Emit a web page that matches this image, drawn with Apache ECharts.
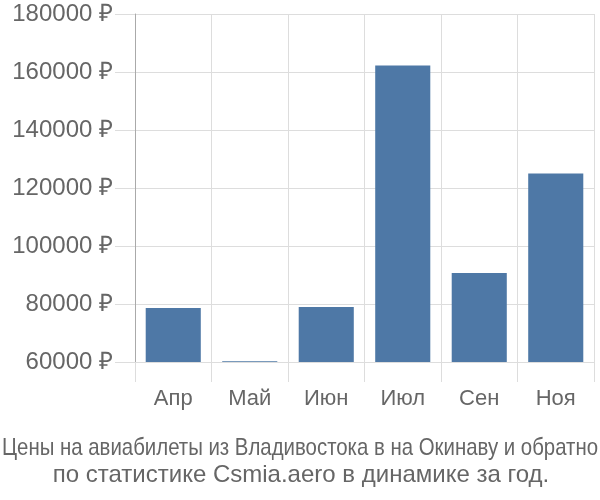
<!DOCTYPE html>
<html>
<head>
<meta charset="utf-8">
<script src="https://cdn.jsdelivr.net/npm/echarts@6/dist/echarts.min.js"></script>
<style>html,body{margin:0;padding:0;background:#fff}#c{width:600px;height:500px}</style>
</head>
<body>
<div id="c"></div>
<script>
const categories = ['Апр', 'Май', 'Июн', 'Июл', 'Сен', 'Ноя'];
const prices = [78600, 60300, 79000, 162200, 90700, 125000];
const yTicks = { min: 60000, max: 180000, interval: 20000 };
const titleLine1 = 'Цены на авиабилеты из Владивостока в на Окинаву и обратно';
const titleLine2 = 'по статистике Csmia.aero в динамике за год.';

const FONT = '"Liberation Sans", Arial, sans-serif';
const ctx = document.createElement('canvas').getContext('2d');
ctx.font = '24px ' + FONT;
const w1 = ctx.measureText(titleLine1).width;
const scale1 = Math.min(1, 596 / w1);

const chart = echarts.init(document.getElementById('c'), null, { renderer: 'canvas' });
chart.setOption({
  animation: false,
  backgroundColor: '#fff',
  textStyle: { fontFamily: FONT },
  grid: { left: 135, right: 6, top: 14, bottom: 138, containLabel: false },
  xAxis: {
    type: 'category',
    data: categories,
    boundaryGap: true,
    axisLine: { show: true, lineStyle: { color: '#dddddd', width: 1 } },
    axisTick: { show: true, length: 20, alignWithLabel: false, lineStyle: { color: '#dddddd' } },
    splitLine: { show: true, lineStyle: { color: '#dddddd', width: 1 } },
    axisLabel: { color: '#666', fontSize: 22, margin: 26, fontFamily: FONT }
  },
  yAxis: {
    type: 'value',
    min: yTicks.min,
    max: yTicks.max,
    interval: yTicks.interval,
    axisLine: { show: true, lineStyle: { color: '#aaaaaa', width: 1 } },
    axisTick: { show: true, length: 20, lineStyle: { color: '#dddddd' } },
    splitLine: { show: true, lineStyle: { color: '#dddddd', width: 1 } },
    axisLabel: {
      color: '#666', fontSize: 24, margin: 22, fontFamily: FONT,
      formatter: v => v + ' ₽'
    }
  },
  series: [{
    type: 'bar',
    data: prices,
    barWidth: '72%',
    itemStyle: { color: '#4e78a6' }
  }],
  graphic: [
    {
      type: 'text', x: 300, y: 448, scaleX: scale1,
      style: { text: titleLine1, font: '24px ' + FONT, fill: '#666', textAlign: 'center', textVerticalAlign: 'middle' }
    },
    {
      type: 'text', x: 301, y: 475,
      style: { text: titleLine2, font: '24px ' + FONT, fill: '#666', textAlign: 'center', textVerticalAlign: 'middle' }
    }
  ]
});
</script>
</body>
</html>
